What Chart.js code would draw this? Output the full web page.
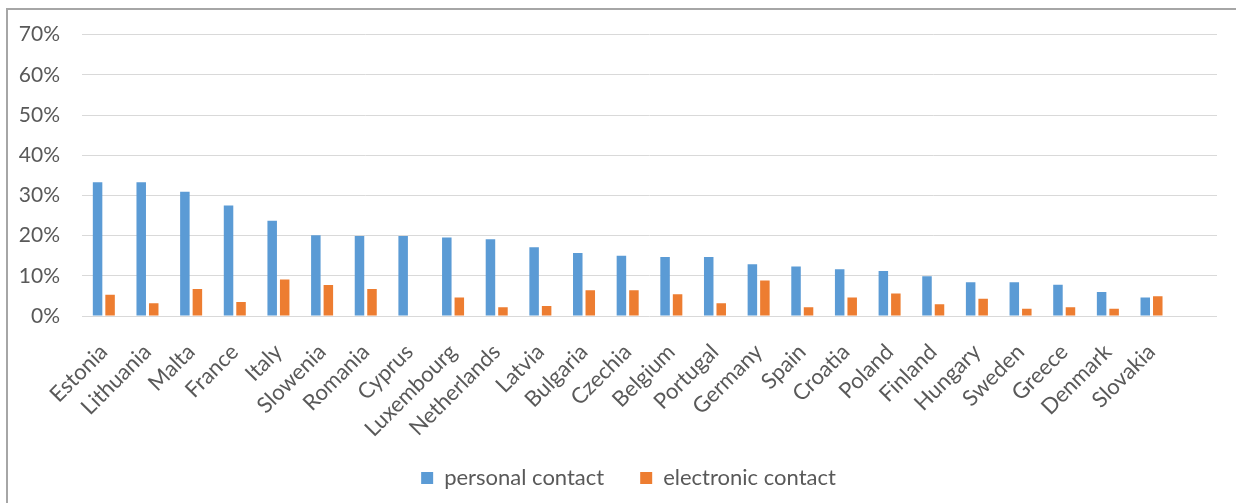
<!DOCTYPE html>
<html>
<head>
<meta charset="utf-8">
<script src="https://cdn.jsdelivr.net/npm/chart.js@4.4.1/dist/chart.umd.min.js"></script>
<style>
  html, body { margin: 0; padding: 0; background: #fff; overflow: hidden; }
  #wrap { position: relative; width: 1236px; height: 503px; }
  #frame {
    position: absolute; left: 6px; top: 8px; right: -10px; bottom: -10px;
    border-left: 2px solid #a6a6a6; border-top: 2px solid #a6a6a6;
  }
  canvas { position: absolute; left: 0; top: 0; }
</style>
</head>
<body>
<div id="wrap">
  <div id="frame"></div>
  <canvas id="chart" width="1236" height="503"></canvas>
</div>
<script>
// last label is an empty slot, the original leaves room for one more category
const countries = [
  'Estonia', 'Lithuania', 'Malta', 'France', 'Italy', 'Slowenia', 'Romania', 'Cyprus',
  'Luxembourg', 'Netherlands', 'Latvia', 'Bulgaria', 'Czechia', 'Belgium', 'Portugal',
  'Germany', 'Spain', 'Croatia', 'Poland', 'Finland', 'Hungary', 'Sweden', 'Greece',
  'Denmark', 'Slovakia', ''
];

// shares in percent
const personalContact = [
  33.3, 33.3, 30.9, 27.5, 23.7, 20.1, 19.9, 19.9,
  19.5, 19.1, 17.1, 15.7, 15.0, 14.7, 14.7,
  12.9, 12.3, 11.6, 11.2, 9.9, 8.4, 8.4, 7.8,
  6.0, 4.6
];
const electronicContact = [
  5.3, 3.2, 6.7, 3.5, 9.1, 7.7, 6.7, 0,
  4.6, 2.2, 2.5, 6.4, 6.4, 5.4, 3.2,
  8.8, 2.2, 4.6, 5.6, 2.9, 4.3, 1.8, 2.2,
  1.8, 4.9
];

const yMin = 0;
const yMax = 70;
const yStep = 10;

const textColor = '#595959';
const fontFamily = 'Lato, "Liberation Sans", sans-serif';

// nudge the legend to the right (not centred in the original) and
// let the long rotated labels run past the x scale box without clipping
const layoutTweaks = {
  id: 'layoutTweaks',
  afterLayout(chart) {
    const lg = chart.legend;
    if (lg) {
      lg.left += 20;
      lg.right += 20;
    }
    if (chart.scales.x) {
      chart.scales.x.bottom += 20;
    }
  }
};

const ctx = document.getElementById('chart').getContext('2d');

new Chart(ctx, {
  type: 'bar',
  data: {
    labels: countries,
    datasets: [
      {
        label: 'personal contact',
        data: personalContact,
        backgroundColor: '#5b9bd5',
        categoryPercentage: 0.573,
        barPercentage: 0.76
      },
      {
        label: 'electronic contact',
        data: electronicContact,
        backgroundColor: '#ed7d31',
        categoryPercentage: 0.573,
        barPercentage: 0.76
      }
    ]
  },
  plugins: [layoutTweaks],
  options: {
    responsive: false,
    animation: false,
    layout: {
      padding: { top: 34, right: 19, bottom: 4, left: 0 }
    },
    plugins: {
      tooltip: { enabled: false },
      legend: {
        position: 'bottom',
        labels: {
          color: textColor,
          font: { family: fontFamily, size: 22 },
          boxWidth: 12,
          boxHeight: 12,
          padding: 36
        }
      }
    },
    scales: {
      x: {
        grid: { display: false },
        border: { display: false },
        ticks: {
          color: textColor,
          font: { family: fontFamily, size: 22 },
          minRotation: 45,
          maxRotation: 45,
          autoSkip: false,
          padding: 15
        },
        afterFit: (scale) => { scale.height = 115; }
      },
      y: {
        min: yMin,
        max: yMax,
        grid: { color: '#d9d9d9', lineWidth: 1, drawTicks: false },
        border: { display: false },
        ticks: {
          stepSize: yStep,
          color: textColor,
          font: { family: fontFamily, size: 21 },
          padding: 22,
          callback: (v) => v + '%'
        },
        afterFit: (scale) => { scale.width = 82; }
      }
    }
  }
});
</script>
</body>
</html>
